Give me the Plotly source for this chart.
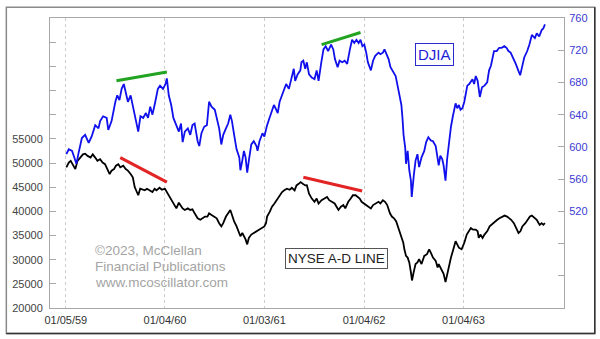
import plotly.graph_objects as go

# ---- Dow Jones Industrial Average (right axis) ----
djia_dates = [
    "1959-01-07", "1959-01-16", "1959-01-28", "1959-02-05", "1959-02-13", "1959-02-20", "1959-03-05", "1959-03-17", "1959-03-30", "1959-04-10",
    "1959-04-23", "1959-05-05", "1959-05-11", "1959-05-22", "1959-06-04", "1959-06-10", "1959-06-22", "1959-07-06", "1959-07-13", "1959-07-21",
    "1959-07-29", "1959-08-06", "1959-08-13", "1959-08-21", "1959-08-31", "1959-09-08", "1959-09-15", "1959-09-21", "1959-09-28", "1959-10-06",
    "1959-10-16", "1959-10-26", "1959-11-03", "1959-11-11", "1959-11-19", "1959-11-27", "1959-12-09", "1959-12-17", "1959-12-28", "1960-01-06",
    "1960-01-11", "1960-01-18", "1960-01-27", "1960-02-04", "1960-02-15", "1960-02-24", "1960-03-03", "1960-03-09", "1960-03-17", "1960-03-28",
    "1960-04-06", "1960-04-14", "1960-04-22", "1960-05-03", "1960-05-09", "1960-05-17", "1960-05-27", "1960-06-06", "1960-06-14", "1960-06-23",
    "1960-07-05", "1960-07-12", "1960-07-21", "1960-07-29", "1960-08-05", "1960-08-15", "1960-08-23", "1960-08-31", "1960-09-06", "1960-09-14",
    "1960-09-23", "1960-10-03", "1960-10-07", "1960-10-14", "1960-10-20", "1960-10-26", "1960-11-01", "1960-11-07", "1960-11-16", "1960-11-25",
    "1960-12-05", "1960-12-09", "1960-12-16", "1960-12-27", "1961-01-03", "1961-01-13", "1961-01-23", "1961-01-31", "1961-02-07", "1961-02-13",
    "1961-02-21", "1961-02-28", "1961-03-09", "1961-03-17", "1961-03-24", "1961-04-03", "1961-04-11", "1961-04-21", "1961-04-26", "1961-05-05",
    "1961-05-15", "1961-05-19", "1961-05-26", "1961-06-02", "1961-06-08", "1961-06-16", "1961-06-26", "1961-07-06", "1961-07-14", "1961-07-21",
    "1961-07-31", "1961-08-08", "1961-08-16", "1961-08-25", "1961-09-05", "1961-09-13", "1961-09-19", "1961-09-29", "1961-10-06", "1961-10-16",
    "1961-10-25", "1961-11-03", "1961-11-13", "1961-11-21", "1961-11-29", "1961-12-07", "1961-12-15", "1961-12-22", "1961-12-29", "1962-01-05",
    "1962-01-12", "1962-01-18", "1962-01-29", "1962-02-06", "1962-02-14", "1962-02-26", "1962-03-05", "1962-03-14", "1962-03-20", "1962-03-26",
    "1962-04-04", "1962-04-11", "1962-04-20", "1962-04-30", "1962-05-07", "1962-05-14", "1962-05-21", "1962-05-25", "1962-05-29", "1962-06-04",
    "1962-06-07", "1962-06-13", "1962-06-19", "1962-06-25", "1962-06-28", "1962-07-06", "1962-07-12", "1962-07-19", "1962-07-25", "1962-08-03",
    "1962-08-13", "1962-08-20", "1962-08-28", "1962-09-06", "1962-09-14", "1962-09-24", "1962-10-01", "1962-10-05", "1962-10-11", "1962-10-18",
    "1962-10-23", "1962-10-30", "1962-11-05", "1962-11-12", "1962-11-19", "1962-11-26", "1962-11-30", "1962-12-06", "1962-12-12", "1962-12-18",
    "1962-12-24", "1962-12-31", "1963-01-07", "1963-01-14", "1963-01-18", "1963-01-25", "1963-01-31", "1963-02-06", "1963-02-12", "1963-02-18",
    "1963-02-25", "1963-03-01", "1963-03-05", "1963-03-13", "1963-03-22", "1963-04-01", "1963-04-08", "1963-04-15", "1963-04-22", "1963-04-26",
    "1963-05-06", "1963-05-15", "1963-05-24", "1963-06-03", "1963-06-11", "1963-06-18", "1963-06-26", "1963-07-05", "1963-07-15", "1963-07-24",
    "1963-07-31", "1963-08-07", "1963-08-15", "1963-08-26", "1963-09-03", "1963-09-12", "1963-09-23", "1963-09-30", "1963-10-09", "1963-10-18",
    "1963-10-24", "1963-10-30",
]
djia_values = [
    591, 597, 595, 587, 579, 591, 611, 615, 605, 613,
    627, 623, 632, 638, 636, 621, 632, 656, 664, 658,
    672, 678, 666, 656, 664, 652, 640, 632, 619, 638,
    636, 642, 636, 650, 640, 652, 672, 676, 672, 678,
    685, 664, 652, 636, 627, 619, 629, 606, 619, 623,
    615, 627, 629, 607, 601, 617, 625, 627, 656, 650,
    646, 636, 623, 603, 615, 623, 629, 640, 632, 615,
    597, 587, 571, 583, 595, 587, 568, 583, 603, 607,
    601, 595, 607, 617, 613, 627, 636, 644, 652, 648,
    642, 656, 664, 672, 678, 672, 684, 697, 682, 690,
    695, 705, 707, 697, 705, 690, 686, 684, 695, 682,
    705, 721, 725, 719, 727, 721, 709, 699, 707, 705,
    707, 703, 721, 733, 729, 733, 729, 733, 725, 727,
    717, 705, 695, 707, 713, 717, 715, 717, 721, 717,
    709, 699, 693, 688, 676, 664, 652, 636, 615, 599,
    579, 595, 571, 558, 538, 566, 583, 591, 575, 587,
    595, 606, 612, 608, 607, 601, 585, 577, 589, 585,
    577, 558, 585, 609, 625, 638, 646, 654, 648, 652,
    646, 648, 656, 668, 676, 678, 682, 684, 678, 688,
    682, 668, 662, 674, 676, 680, 695, 701, 711, 719,
    719, 723, 723, 725, 723, 719, 717, 711, 703, 695,
    689, 699, 711, 719, 727, 739, 735, 741, 737, 745,
    747, 752,
]

# ---- NYSE cumulative advance-decline line (left axis) ----
ad_dates = [
    "1959-01-07", "1959-01-16", "1959-01-23", "1959-01-30", "1959-02-09", "1959-02-17", "1959-02-27", "1959-03-09", "1959-03-17", "1959-03-26",
    "1959-04-06", "1959-04-14", "1959-04-23", "1959-05-01", "1959-05-11", "1959-05-20", "1959-05-29", "1959-06-08", "1959-06-15", "1959-06-22",
    "1959-07-01", "1959-07-08", "1959-07-17", "1959-07-24", "1959-08-04", "1959-08-13", "1959-08-21", "1959-08-31", "1959-09-08", "1959-09-15",
    "1959-09-21", "1959-09-28", "1959-10-05", "1959-10-14", "1959-10-22", "1959-10-30", "1959-11-09", "1959-11-19", "1959-11-27", "1959-12-04",
    "1959-12-15", "1959-12-24", "1960-01-04", "1960-01-11", "1960-01-18", "1960-01-27", "1960-02-04", "1960-02-15", "1960-02-24", "1960-03-03",
    "1960-03-09", "1960-03-17", "1960-03-28", "1960-04-06", "1960-04-14", "1960-04-22", "1960-05-03", "1960-05-13", "1960-05-20", "1960-05-30",
    "1960-06-08", "1960-06-14", "1960-06-23", "1960-07-05", "1960-07-12", "1960-07-21", "1960-07-29", "1960-08-05", "1960-08-15", "1960-08-23",
    "1960-08-31", "1960-09-08", "1960-09-14", "1960-09-23", "1960-10-03", "1960-10-07", "1960-10-14", "1960-10-20", "1960-10-26", "1960-11-01",
    "1960-11-07", "1960-11-16", "1960-11-25", "1960-12-05", "1960-12-14", "1960-12-22", "1961-01-03", "1961-01-09", "1961-01-13", "1961-01-23",
    "1961-01-31", "1961-02-09", "1961-02-20", "1961-02-28", "1961-03-09", "1961-03-17", "1961-03-27", "1961-04-06", "1961-04-14", "1961-04-24",
    "1961-05-01", "1961-05-09", "1961-05-16", "1961-05-24", "1961-06-02", "1961-06-08", "1961-06-16", "1961-06-26", "1961-07-06", "1961-07-14",
    "1961-07-21", "1961-08-01", "1961-08-11", "1961-08-21", "1961-08-29", "1961-09-08", "1961-09-18", "1961-09-25", "1961-10-02", "1961-10-11",
    "1961-10-20", "1961-10-27", "1961-11-07", "1961-11-16", "1961-11-24", "1961-12-04", "1961-12-13", "1961-12-19", "1961-12-26", "1962-01-04",
    "1962-01-12", "1962-01-22", "1962-01-29", "1962-02-06", "1962-02-14", "1962-02-26", "1962-03-05", "1962-03-14", "1962-03-22", "1962-03-30",
    "1962-04-09", "1962-04-16", "1962-04-24", "1962-05-02", "1962-05-10", "1962-05-18", "1962-05-22", "1962-05-28", "1962-06-01", "1962-06-07",
    "1962-06-13", "1962-06-19", "1962-06-25", "1962-06-29", "1962-07-05", "1962-07-12", "1962-07-19", "1962-07-25", "1962-08-03", "1962-08-13",
    "1962-08-23", "1962-08-31", "1962-09-06", "1962-09-14", "1962-09-24", "1962-10-01", "1962-10-05", "1962-10-11", "1962-10-18", "1962-10-23",
    "1962-10-30", "1962-11-05", "1962-11-12", "1962-11-19", "1962-11-26", "1962-11-30", "1962-12-06", "1962-12-12", "1962-12-18", "1962-12-28",
    "1963-01-07", "1963-01-16", "1963-01-24", "1963-01-31", "1963-02-08", "1963-02-18", "1963-02-25", "1963-03-01", "1963-03-07", "1963-03-15",
    "1963-03-22", "1963-04-01", "1963-04-10", "1963-04-22", "1963-04-29", "1963-05-08", "1963-05-16", "1963-05-27", "1963-06-04", "1963-06-13",
    "1963-06-21", "1963-06-28", "1963-07-08", "1963-07-16", "1963-07-25", "1963-08-01", "1963-08-08", "1963-08-19", "1963-08-28", "1963-09-05",
    "1963-09-12", "1963-09-23", "1963-09-30", "1963-10-07", "1963-10-11", "1963-10-18", "1963-10-24", "1963-10-30",
]
ad_values = [
    49090, 50100, 50450, 49760, 48740, 50450, 51120, 51790, 51930, 51470,
    51120, 51790, 51120, 50450, 50780, 50100, 49760, 48740, 47720, 48420,
    48740, 49430, 49760, 49090, 49430, 48740, 48420, 47720, 47050, 45020,
    44350, 43330, 44670, 44470, 44350, 44670, 44350, 44000, 44670, 44350,
    44880, 44470, 44670, 44000, 43330, 42640, 41620, 40610, 41800, 41200,
    40610, 40280, 40610, 40280, 40400, 39590, 38570, 38250, 38570, 38920,
    38920, 39590, 39260, 38920, 38570, 37550, 36880, 37550, 38920, 39590,
    40280, 38920, 37900, 36880, 35190, 34850, 35520, 34850, 34180, 33160,
    34500, 35190, 35520, 35870, 36210, 36540, 36880, 37550, 38920, 39930,
    40950, 41620, 42640, 43330, 44000, 44350, 44670, 44470, 44880, 44350,
    45360, 45690, 46040, 45690, 45360, 45400, 43660, 42640, 41970, 42640,
    41620, 42310, 42640, 42980, 42310, 41970, 41620, 40950, 40280, 40950,
    41300, 40610, 41970, 42640, 43330, 43330, 42980, 42640, 41970, 41620,
    41300, 40950, 40610, 41300, 41620, 41970, 41620, 42310, 41970, 41300,
    39590, 38920, 38570, 37900, 36540, 35190, 34500, 33490, 32140, 30780,
    30430, 29420, 27380, 25700, 27380, 29090, 29420, 30110, 29090, 30780,
    31130, 32140, 31450, 30430, 29760, 28400, 29090, 28400, 27730, 27060,
    25350, 27060, 29090, 30430, 31800, 32810, 33830, 33160, 32470, 32140,
    33490, 35190, 35870, 36540, 36210, 36210, 35870, 34500, 35190, 34500,
    35190, 35870, 36880, 37550, 37900, 38250, 38570, 38920, 39120, 38920,
    38570, 38250, 37550, 36540, 35520, 35870, 36880, 37550, 38250, 38920,
    39120, 38570, 38250, 37550, 37210, 37550, 37210, 37550,
]

# ---- divergence trendlines ----
djia_peak_lines = [
    (["1959-07-10", "1960-01-11"], [682, 693]),
    (["1961-08-01", "1961-12-22"], [727, 742]),
]
ad_peak_lines = [
    (["1959-07-24", "1960-01-11"], [51120, 46040]),
    (["1961-05-26", "1961-12-28"], [47050, 44200]),
]

# ---- axis ticks ----
x_tick_dates = ["1959-01-05", "1960-01-04", "1961-01-03", "1962-01-04", "1963-01-04"]
x_tick_text = ["01/05/59", "01/04/60", "01/03/61", "01/04/62", "01/04/63"]
ad_tick_vals = list(range(20000, 80000, 5000))
ad_tick_text = [f"{v}" if v <= 55000 else "" for v in ad_tick_vals]
djia_tick_vals = list(range(440, 761, 40))
djia_tick_text = [f"{v}" if v >= 520 else "" for v in djia_tick_vals]

FONT = "Liberation Sans, Arial, sans-serif"
BLUE = "#1010ec"
AXIS_GRAY = "#a8a8a8"

fig = go.Figure()

fig.add_trace(go.Scatter(
    x=ad_dates, y=ad_values, mode="lines", yaxis="y",
    line=dict(color="#000000", width=1.8), hoverinfo="skip", showlegend=False,
))
fig.add_trace(go.Scatter(
    x=djia_dates, y=djia_values, mode="lines", yaxis="y2",
    line=dict(color=BLUE, width=1.8), hoverinfo="skip", showlegend=False,
))
for xs, ys in djia_peak_lines:
    fig.add_trace(go.Scatter(
        x=xs, y=ys, mode="lines", yaxis="y2",
        line=dict(color="#22a322", width=3), hoverinfo="skip", showlegend=False,
    ))
for xs, ys in ad_peak_lines:
    fig.add_trace(go.Scatter(
        x=xs, y=ys, mode="lines", yaxis="y",
        line=dict(color="#e32424", width=3), hoverinfo="skip", showlegend=False,
    ))

L, R, T, B = 46, 36, 13, 31
PW, PH = 600 - L - R, 339 - T - B


def px(x):
    return (x - L) / PW


def py(y):
    return (339 - B - y) / PH


fig.update_layout(
    width=600, height=339,
    margin=dict(l=L, r=R, t=T, b=B),
    paper_bgcolor="white", plot_bgcolor="white",
    font=dict(family=FONT, size=11, color="#333333"),
    xaxis=dict(
        type="date", range=["1958-11-08", "1964-01-08"],
        tickvals=x_tick_dates, ticktext=x_tick_text,
        showgrid=True, gridcolor="#cccccc", griddash="dot", gridwidth=1,
        showline=True, linecolor=AXIS_GRAY, linewidth=1, mirror=True,
        ticks="", zeroline=False, tickfont=dict(size=11, color="#333333"),
        ticklabelstandoff=2,
    ),
    yaxis=dict(
        range=[20000, 80000], tickvals=ad_tick_vals, ticktext=ad_tick_text,
        ticks="inside", ticklen=6, tickcolor=AXIS_GRAY, showgrid=False,
        showline=True, linecolor=AXIS_GRAY, linewidth=1, mirror=True,
        zeroline=False, tickfont=dict(size=11, color="#444444"),
        ticklabelstandoff=4,
    ),
    yaxis2=dict(
        range=[400, 760], overlaying="y", side="right",
        tickvals=djia_tick_vals, ticktext=djia_tick_text,
        ticks="inside", ticklen=6, tickcolor=AXIS_GRAY, showgrid=False,
        showline=True, linecolor=AXIS_GRAY, linewidth=1,
        zeroline=False, tickfont=dict(size=11, color="#3a3ad2"),
        ticklabelstandoff=2,
    ),
)

# outer frame with darker lower/right edges
fig.add_shape(type="rect", xref="paper", yref="paper",
              x0=px(2), x1=px(595), y0=py(334), y1=py(2),
              line=dict(color="#8a8a8a", width=1.5), layer="below")
fig.add_shape(type="line", xref="paper", yref="paper",
              x0=px(2), x1=px(595.5), y0=py(334), y1=py(334),
              line=dict(color="#333333", width=1.5))
fig.add_shape(type="line", xref="paper", yref="paper",
              x0=px(595), x1=px(595), y0=py(334), y1=py(2),
              line=dict(color="#333333", width=1.5))

fig.add_annotation(
    x=px(453.3), y=py(38.7), xref="paper", yref="paper", text="DJIA",
    showarrow=False, font=dict(family=FONT, size=15, color="#1e1ed8"),
    bordercolor="#2a2ad0", borderwidth=1, borderpad=2, bgcolor="white",
)
fig.add_annotation(
    x=px(334.7), y=py(268.8), xref="paper", yref="paper", text="NYSE A-D LINE",
    showarrow=False, font=dict(family=FONT, size=13.5, color="#222222"),
    bordercolor="#555555", borderwidth=1, borderpad=2, bgcolor="white",
)
for i, line in enumerate(["©2023, McClellan", "Financial Publications", "www.mcoscillator.com"]):
    fig.add_annotation(
        x=px(89), y=py(250 + 15.8 * i), xref="paper", yref="paper", text=line,
        xanchor="left", yanchor="middle", showarrow=False,
        font=dict(family=FONT, size=13.5, color="#a4a4a4"),
    )

fig.write_html("out.html")
